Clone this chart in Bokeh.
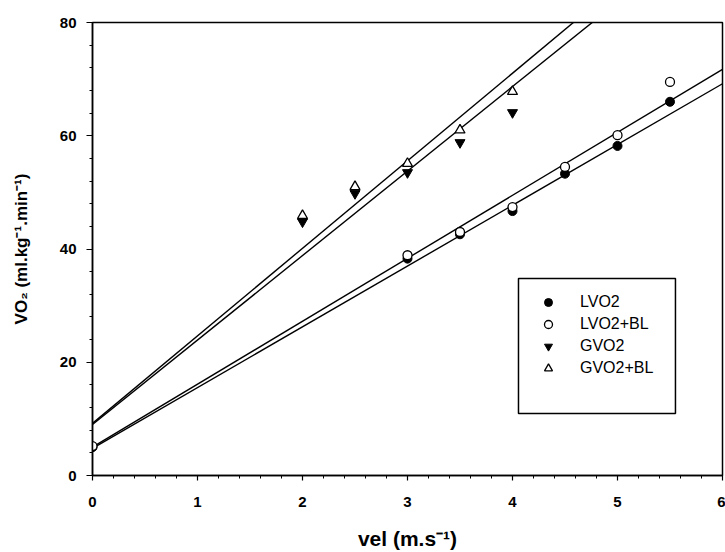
from bokeh.plotting import figure
from bokeh.models import Legend, LegendItem, BoxAnnotation, SingleIntervalTicker, Range1d
from bokeh.embed import file_html
from bokeh.resources import INLINE

# ---- data ----
lvo2_x = [0, 3, 3.5, 4, 4.5, 5, 5.5]
lvo2_y = [5.0, 38.3, 42.6, 46.7, 53.3, 58.2, 66.0]
lvo2bl_x = [0, 3, 3.5, 4, 4.5, 5, 5.5]
lvo2bl_y = [5.2, 38.9, 43.0, 47.4, 54.5, 60.1, 69.5]
gvo2_x = [2, 2.5, 3, 3.5, 4]
gvo2_y = [44.8, 49.8, 53.5, 58.8, 64.1]
gvo2bl_x = [2, 2.5, 3, 3.5, 4]
gvo2bl_y = [45.9, 51.0, 55.1, 61.0, 67.8]

# regression lines (intercept, slope)
fit_names = ["LVO2", "LVO2+BL", "GVO2", "GVO2+BL"]
fit_intercepts = [4.8, 5.0, 9.0, 9.2]
fit_slopes = [10.73, 11.12, 14.92, 15.46]
fit_x = [0, 6]

x_ticks = [0, 1, 2, 3, 4, 5, 6]
y_ticks = [0, 20, 40, 60, 80]

FONT = "Liberation Sans"

p = figure(width=725, height=552, x_range=Range1d(0, 6), y_range=Range1d(0, 80),
           output_backend="svg", toolbar_location=None,
           min_border_left=92, min_border_right=3, min_border_top=22, min_border_bottom=77)
p.background_fill_color = "white"
p.border_fill_color = "white"
p.grid.visible = False
p.outline_line_color = "black"
p.outline_line_width = 1.5

# fit lines
for b, m in zip(fit_intercepts, fit_slopes):
    p.line(fit_x, [b + m * xx for xx in fit_x], line_color="black", line_width=1.4)

r1 = p.scatter(lvo2_x, lvo2_y, marker="circle", size=9, fill_color="black", line_color="black")
r2 = p.scatter(lvo2bl_x, lvo2bl_y, marker="circle", size=9, fill_color="white", line_color="black", line_width=1.3)
r3 = p.scatter(gvo2_x, gvo2_y, marker="inverted_triangle", size=10, fill_color="black", line_color="black")
r4 = p.scatter(gvo2bl_x, gvo2bl_y, marker="triangle", size=10, fill_color="white", line_color="black", line_width=1.3)

# axes
p.xaxis.ticker = SingleIntervalTicker(interval=1, num_minor_ticks=5)
p.yaxis.ticker = SingleIntervalTicker(interval=20, num_minor_ticks=5)
for ax in (p.xaxis, p.yaxis):
    ax.axis_line_color = "black"
    ax.axis_line_width = 1.5
    ax.major_tick_line_color = "black"
    ax.minor_tick_line_color = "black"
    ax.major_tick_line_width = 1.2
    ax.minor_tick_line_width = 1
    ax.major_tick_in = 0
    ax.minor_tick_in = 0
    ax.major_label_text_font = FONT
    ax.major_label_text_font_style = "bold"
    ax.major_label_text_font_size = "15px"
    ax.major_label_text_color = "black"
    ax.axis_label_text_font = FONT
    ax.axis_label_text_font_style = "bold"
    ax.axis_label_text_color = "black"

p.xaxis.major_tick_out = 5
p.xaxis.minor_tick_out = 3
p.yaxis.major_tick_out = 6
p.yaxis.minor_tick_out = 3
p.xaxis.major_label_standoff = 16
p.yaxis.major_label_standoff = 10
p.xaxis.axis_label = "vel (m.s\u207b\u00b9)"
p.yaxis.axis_label = "VO\u2082 (ml.kg\u207b\u00b9.min\u207b\u00b9)"
p.xaxis.axis_label_text_font_size = "21px"
p.yaxis.axis_label_text_font_size = "17px"
p.xaxis.axis_label_standoff = 17
p.yaxis.axis_label_standoff = 26

# legend frame
box = BoxAnnotation(left=4.057, right=5.552, bottom=10.95, top=34.8,
                    fill_alpha=0, line_color="black", line_alpha=1.0, line_width=1.5)
p.add_layout(box)

legend = Legend(items=[LegendItem(label="LVO2", renderers=[r1]),
                       LegendItem(label="LVO2+BL", renderers=[r2]),
                       LegendItem(label="GVO2", renderers=[r3]),
                       LegendItem(label="GVO2+BL", renderers=[r4])],
                location=(446, 97), padding=0, margin=0, spacing=2,
                glyph_width=20, glyph_height=20, label_height=20, label_standoff=22,
                border_line_alpha=0, background_fill_alpha=0,
                label_text_font=FONT, label_text_font_size="16px", label_text_color="black")
p.add_layout(legend)

open("out.html", "w").write(file_html(p, INLINE))
